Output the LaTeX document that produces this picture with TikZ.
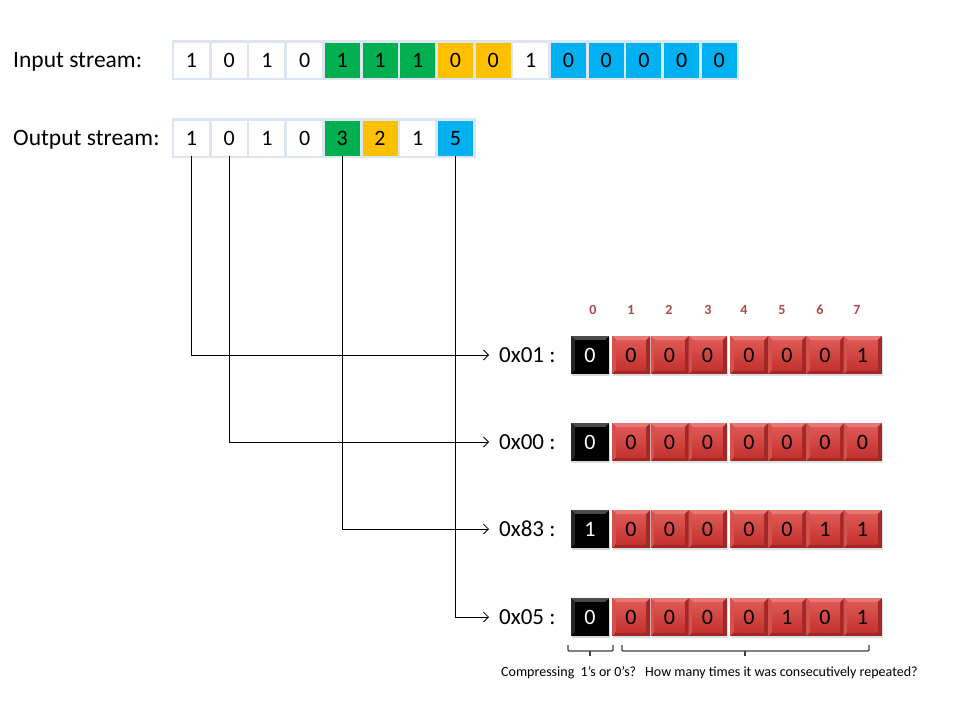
\documentclass[tikz,border=0pt]{standalone}
\usepackage{fontspec}
\setmainfont{Carlito}
\usetikzlibrary{arrows.meta,shadows}
\definecolor{framec}{RGB}{220,230,242}
\definecolor{cgreen}{RGB}{0,176,80}
\definecolor{corange}{RGB}{255,192,0}
\definecolor{cblue}{RGB}{0,176,240}
\definecolor{rdark}{RGB}{160,40,38}
\definecolor{rlight}{RGB}{232,120,115}
\definecolor{rtop}{RGB}{222,88,84}
\definecolor{rbot}{RGB}{196,50,47}
\definecolor{kgrey}{RGB}{75,75,75}
\definecolor{idxc}{RGB}{175,72,68}
\begin{document}
\begin{tikzpicture}[x=1pt,y=-1pt,
  cell/.style={minimum width=35pt,minimum height=35pt,inner sep=0pt,font=\fontsize{22}{26}\selectfont},
  streamlabel/.style={anchor=base west,inner sep=0pt,font=\fontsize{23.5}{28}\selectfont},
  rowlabel/.style={anchor=west,inner xsep=10pt,inner ysep=0pt,font=\fontsize{23}{27}\selectfont},
  idx/.style={font=\fontsize{14}{16}\selectfont\bfseries,text=idxc},
  note/.style={font=\fontsize{14}{16}\selectfont,inner sep=0pt},
  arr/.style={line width=0.8pt,-{Straight Barb[length=5pt,width=10pt]}},
  brace/.style={line width=1.1pt,draw=black!75,rounded corners=1pt},
  redbit/.style={minimum width=38pt,minimum height=38pt,inner sep=0pt,
    font=\fontsize{22}{26}\selectfont,text=black,fill=rdark,
    drop shadow={opacity=0.25,shadow xshift=1pt,shadow yshift=-1.5pt},
    path picture={
      \fill[rlight] (path picture bounding box.north west) -- (path picture bounding box.north east)
        -- ([xshift=-4pt,yshift=-4pt]path picture bounding box.north east)
        -- ([xshift=4pt,yshift=-4pt]path picture bounding box.north west) -- cycle;
      \fill[rtop!85!rdark] (path picture bounding box.north west)
        -- ([xshift=4pt,yshift=-4pt]path picture bounding box.north west)
        -- ([xshift=4pt,yshift=4pt]path picture bounding box.south west)
        -- (path picture bounding box.south west) -- cycle;
      \shade[top color=rtop,bottom color=rbot]
        ([xshift=4pt,yshift=-4pt]path picture bounding box.north west)
        rectangle ([xshift=-4pt,yshift=4pt]path picture bounding box.south east);
    }},
  blackbit/.style={minimum width=38pt,minimum height=38pt,inner sep=0pt,
    font=\fontsize{22}{26}\selectfont,text=white,fill=black,
    drop shadow={opacity=0.3,shadow xshift=1pt,shadow yshift=-1.5pt},
    path picture={
      \fill[kgrey] (path picture bounding box.north west) -- (path picture bounding box.north east)
        -- ([xshift=-4pt,yshift=-4pt]path picture bounding box.north east)
        -- ([xshift=4pt,yshift=-4pt]path picture bounding box.north west) -- cycle;
      \fill[black!85] (path picture bounding box.north west)
        -- ([xshift=4pt,yshift=-4pt]path picture bounding box.north west)
        -- ([xshift=4pt,yshift=4pt]path picture bounding box.south west)
        -- (path picture bounding box.south west) -- cycle;
      \fill[black]
        ([xshift=4pt,yshift=-4pt]path picture bounding box.north west)
        rectangle ([xshift=-4pt,yshift=4pt]path picture bounding box.south east);
    }}
]
\useasboundingbox (0,0) rectangle (960,720);
\fill[white] (0,0) rectangle (960,720);

% Input stream
\node[streamlabel] (inlabel) at (13,67) {Input stream:};
\fill[framec] (172,40) rectangle (739,80);
\foreach \d/\c [count=\i] in {1/white,0/white,1/white,0/white,1/cgreen,1/cgreen,1/cgreen,0/corange,0/corange,1/white,0/cblue,0/cblue,0/cblue,0/cblue,0/cblue}
  \node[cell,fill=\c] (in\i) at ({191.5+37.7*(\i-1)},60.5) {\d};

% Output stream
\node[streamlabel] (outlabel) at (13,145) {Output stream:};
\fill[framec] (172,118) rectangle (476,158);
\foreach \d/\c [count=\i] in {1/white,0/white,1/white,0/white,3/cgreen,2/corange,1/white,5/cblue}
  \node[cell,fill=\c] (out\i) at ({191.5+37.7*(\i-1)},138.5) {\d};

% bit index labels
\foreach \t/\x in {0/593,1/631,2/669,3/708,4/744,5/782,6/820,7/857}
  \node[idx] (idx\t) at (\x,310) {\t};

% rows
\foreach \r/\y/\lab/\bits in {1/355/0x01/{0,0,0,0,0,0,0,1},2/442/0x00/{0,0,0,0,0,0,0,0},3/529/0x83/{1,0,0,0,0,0,1,1},4/617/0x05/{0,0,0,0,0,1,0,1}}{
  \node[rowlabel] (lab\r) at (489,\y) {\lab\ :};
  \foreach \b [count=\j] in \bits {
    \pgfmathsetmacro\bx{{590,631,669.5,707.5,749,787,825,862.5}[\j-1]}
    \ifnum\j=1
      \node[blackbit] (b\r-\j) at (\bx,\y) {\b};
    \else
      \node[redbit] (b\r-\j) at (\bx,\y) {\b};
    \fi
  }
}

% connectors
\draw[arr] (out1.south) |- (lab1.west);
\draw[arr] (out2.south) |- (lab2.west);
\draw[arr] (out5.south) |- (lab3.west);
\draw[arr] (out8.south) |- (lab4.west);

% brackets
\coordinate (lb1) at (568,645);
\coordinate (lbm) at (590,651);
\coordinate (lb2) at (613,645);
\coordinate (lbt) at (590,656);
\draw[brace] (lb1) |- (lbm) -| (lb2);
\draw[brace] (lbm) -- (lbt);
\coordinate (rb1) at (622,645);
\coordinate (rbm) at (745,651);
\coordinate (rb2) at (869,645);
\coordinate (rbt) at (745,656);
\draw[brace] (rb1) |- (rbm) -| (rb2);
\draw[brace] (rbm) -- (rbt);

\node[note,anchor=west] (note1) at (501,673) {Compressing\ \ 1’s or 0’s?};
\node[note,anchor=west] (note2) at (645,673) {How many times it was consecutively\ repeated?};
\end{tikzpicture}
\end{document}
